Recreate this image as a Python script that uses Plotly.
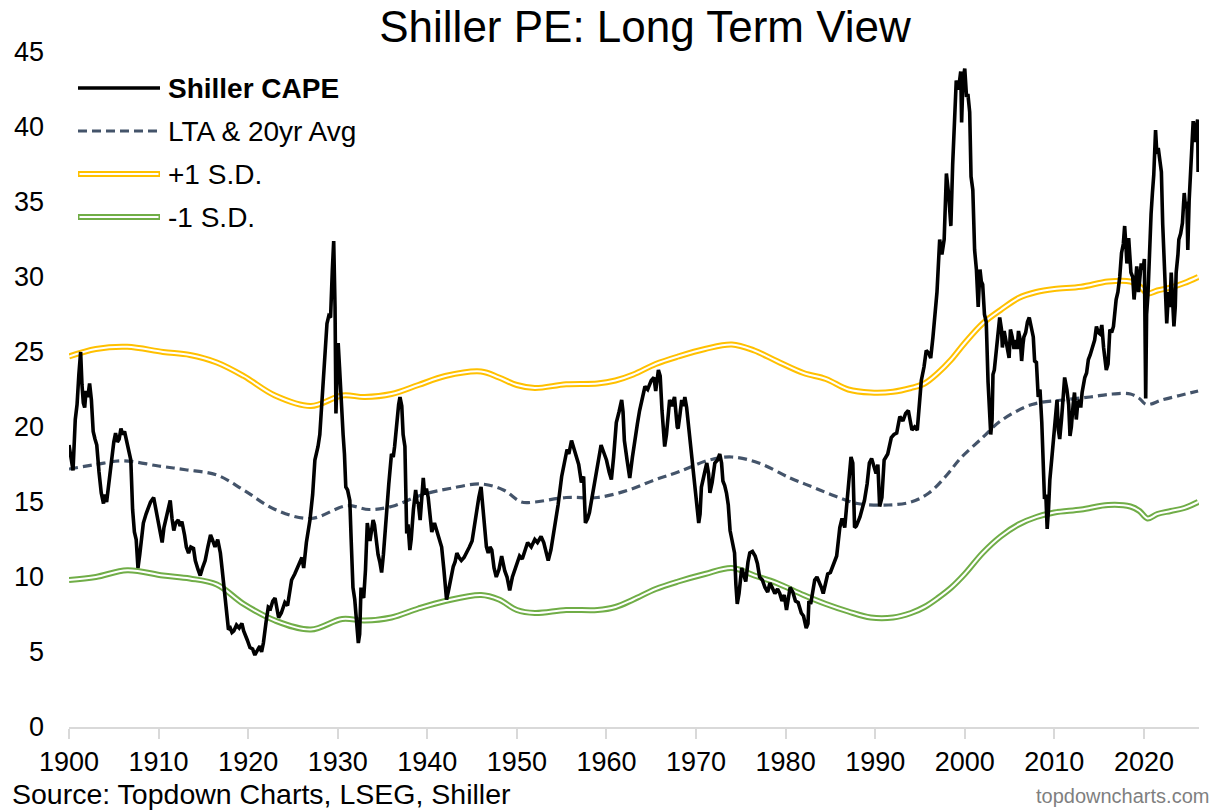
import plotly.graph_objects as go

# ---------------- data ----------------
cape_years = [
    1900.0, 1900.2, 1900.45, 1900.7, 1900.9, 1901.1, 1901.3, 1901.45, 1901.6, 1901.75, 1901.9,
    1902.1, 1902.3, 1902.5, 1902.7, 1902.9, 1903.1, 1903.35, 1903.6, 1903.85, 1904.0, 1904.2,
    1904.4, 1904.7, 1905.0, 1905.2, 1905.4, 1905.6, 1905.8, 1906.0, 1906.2, 1906.5, 1906.7,
    1906.9, 1907.1, 1907.3, 1907.5, 1907.7, 1907.9, 1908.1, 1908.3, 1908.6, 1908.8, 1909.1,
    1909.45, 1909.7, 1910.0, 1910.2, 1910.4, 1910.6, 1910.9, 1911.1, 1911.3, 1911.5, 1911.7,
    1911.9, 1912.2, 1912.4, 1912.6, 1912.9, 1913.1, 1913.35, 1913.6, 1913.9, 1914.1, 1914.4,
    1914.65, 1914.9, 1915.2, 1915.5, 1915.8, 1916.0, 1916.3, 1916.6, 1916.9, 1917.1, 1917.4,
    1917.6, 1917.8, 1918.0, 1918.2, 1918.4, 1918.7, 1919.0, 1919.3, 1919.5, 1919.7, 1919.9,
    1920.2, 1920.5, 1920.75, 1921.0, 1921.3, 1921.5, 1921.7, 1922.0, 1922.25, 1922.5, 1922.75,
    1923.0, 1923.2, 1923.4, 1923.7, 1924.1, 1924.4, 1924.6, 1924.85, 1925.2, 1925.6, 1926.0,
    1926.2, 1926.5, 1926.9, 1927.2, 1927.45, 1927.8, 1928.0, 1928.2, 1928.4, 1928.6, 1928.8,
    1929.0, 1929.2, 1929.4, 1929.55, 1929.7, 1929.8, 1929.95, 1930.05, 1930.2, 1930.4, 1930.6,
    1930.75, 1930.9, 1931.1, 1931.35, 1931.5, 1931.7, 1931.9, 1932.1, 1932.3, 1932.45, 1932.6,
    1932.75, 1932.9, 1933.1, 1933.3, 1933.45, 1933.6, 1933.8, 1933.95, 1934.1, 1934.3, 1934.5,
    1934.7, 1934.9, 1935.1, 1935.3, 1935.45, 1935.7, 1936.0, 1936.2, 1936.35, 1936.6, 1936.8,
    1936.95, 1937.15, 1937.3, 1937.5, 1937.7, 1937.85, 1938.05, 1938.2, 1938.45, 1938.7, 1938.85,
    1939.0, 1939.2, 1939.4, 1939.55, 1939.7, 1939.9, 1940.1, 1940.3, 1940.5, 1940.8, 1941.1,
    1941.3, 1941.6, 1941.85, 1942.15, 1942.4, 1942.65, 1942.9, 1943.1, 1943.3, 1943.55, 1943.8,
    1944.1, 1944.4, 1944.7, 1945.0, 1945.25, 1945.5, 1945.75, 1946.0, 1946.2, 1946.4, 1946.6,
    1946.8, 1947.0, 1947.2, 1947.45, 1947.7, 1948.0, 1948.3, 1948.5, 1948.65, 1948.9, 1949.2,
    1949.5, 1949.8, 1950.0, 1950.3, 1950.6, 1950.9, 1951.2, 1951.6, 1952.0, 1952.3, 1952.7,
    1953.0, 1953.3, 1953.5, 1953.8, 1954.25, 1954.6, 1955.0, 1955.3, 1955.6, 1955.8, 1956.1,
    1956.35, 1956.65, 1956.9, 1957.2, 1957.45, 1957.65, 1957.9, 1958.1, 1958.5, 1958.9, 1959.2,
    1959.4, 1959.7, 1960.0, 1960.3, 1960.55, 1960.8, 1961.1, 1961.4, 1961.7, 1961.85, 1962.0,
    1962.3, 1962.6, 1962.9, 1963.2, 1963.45, 1963.7, 1964.0, 1964.3, 1964.6, 1965.0, 1965.3,
    1965.5, 1965.8, 1966.0, 1966.2, 1966.35, 1966.5, 1966.7, 1966.85, 1967.05, 1967.3, 1967.6,
    1967.9, 1968.0, 1968.2, 1968.4, 1968.6, 1968.75, 1968.95, 1969.1, 1969.3, 1969.5, 1969.7,
    1969.9, 1970.1, 1970.3, 1970.45, 1970.6, 1970.9, 1971.2, 1971.4, 1971.55, 1971.8, 1972.1,
    1972.4, 1972.65, 1972.85, 1973.0, 1973.2, 1973.4, 1973.6, 1973.8, 1974.0, 1974.3, 1974.45,
    1974.6, 1974.8, 1975.1, 1975.3, 1975.55, 1975.8, 1976.0, 1976.3, 1976.6, 1976.85, 1977.1,
    1977.4, 1977.7, 1978.0, 1978.25, 1978.5, 1978.8, 1979.1, 1979.35, 1979.6, 1979.85, 1980.1,
    1980.3, 1980.5, 1980.8, 1981.1, 1981.4, 1981.75, 1982.0, 1982.3, 1982.5, 1982.6, 1982.8,
    1983.0, 1983.25, 1983.5, 1983.8, 1984.0, 1984.2, 1984.45, 1984.7, 1985.0, 1985.4, 1985.7,
    1986.05, 1986.3, 1986.6, 1986.8, 1987.0, 1987.3, 1987.5, 1987.7, 1987.9, 1988.3, 1988.8,
    1989.1, 1989.35, 1989.6, 1989.9, 1990.1, 1990.3, 1990.5, 1990.75, 1991.0, 1991.4, 1991.8,
    1992.1, 1992.4, 1992.75, 1993.1, 1993.4, 1993.7, 1994.1, 1994.4, 1994.7, 1995.15, 1995.45,
    1995.7, 1996.0, 1996.2, 1996.45, 1996.65, 1996.9, 1997.2, 1997.45, 1997.7, 1997.95, 1998.2,
    1998.45, 1998.65, 1998.8, 1999.05, 1999.3, 1999.55, 1999.65, 1999.8, 2000.0, 2000.2, 2000.35,
    2000.55, 2000.7, 2000.9, 2001.1, 2001.3, 2001.5, 2001.7, 2001.85, 2002.0, 2002.2, 2002.4,
    2002.6, 2002.75, 2002.9, 2003.05, 2003.15, 2003.3, 2003.5, 2003.7, 2003.9, 2004.1, 2004.2,
    2004.4, 2004.6, 2004.8, 2004.95, 2005.1, 2005.3, 2005.5, 2005.7, 2005.85, 2006.0, 2006.2,
    2006.35, 2006.5, 2006.6, 2006.8, 2007.0, 2007.2, 2007.35, 2007.5, 2007.65, 2007.8, 2008.0,
    2008.2, 2008.4, 2008.6, 2008.75, 2008.9, 2009.05, 2009.2, 2009.35, 2009.5, 2009.7, 2009.9,
    2010.1, 2010.3, 2010.45, 2010.6, 2010.8, 2011.0, 2011.15, 2011.4, 2011.6, 2011.75, 2011.9,
    2012.1, 2012.25, 2012.45, 2012.6, 2012.8, 2012.95, 2013.1, 2013.4, 2013.6, 2013.8, 2014.0,
    2014.3, 2014.5, 2014.7, 2014.9, 2015.1, 2015.3, 2015.5, 2015.7, 2015.8, 2016.0, 2016.2,
    2016.4, 2016.6, 2016.9, 2017.1, 2017.3, 2017.5, 2017.7, 2017.85, 2018.0, 2018.1, 2018.3,
    2018.45, 2018.55, 2018.75, 2018.9, 2019.05, 2019.2, 2019.4, 2019.55, 2019.7, 2019.9, 2020.05,
    2020.2, 2020.3, 2020.45, 2020.6, 2020.8, 2020.95, 2021.1, 2021.3, 2021.45, 2021.6, 2021.8,
    2021.95, 2022.1, 2022.3, 2022.45, 2022.55, 2022.75, 2022.9, 2023.05, 2023.2, 2023.35, 2023.5,
    2023.6, 2023.8, 2023.9, 2024.1, 2024.3, 2024.5, 2024.65, 2024.8, 2024.9, 2025.05, 2025.2,
    2025.35, 2025.5, 2025.65, 2025.8, 2026.0, 2026.05,
]
cape_values = [
    18.8, 18.0, 17.1, 20.5, 21.5, 23.5, 25.0, 22.8, 21.6, 21.3, 22.4,
    22.0, 22.9, 21.8, 19.7, 19.2, 18.8, 17.0, 15.6, 14.9, 15.5, 15.0,
    16.2, 17.5, 19.0, 19.6, 19.0, 19.2, 19.9, 19.5, 19.7, 18.9, 18.6,
    17.8, 14.5, 13.0, 12.5, 10.6, 11.5, 12.5, 13.6, 14.2, 14.5, 15.0,
    15.3, 14.5, 13.6, 13.0, 12.3, 13.3, 14.2, 14.5, 15.1, 13.9, 13.1,
    13.6, 13.8, 13.4, 13.7, 12.8, 12.0, 11.6, 12.0, 11.9, 11.1, 10.5,
    10.1, 10.6, 11.1, 12.0, 12.8, 12.5, 12.0, 12.5, 11.6, 10.5, 8.7,
    7.5, 6.5, 6.6, 6.3, 6.4, 6.8, 6.6, 6.9, 6.4, 6.0, 5.8,
    5.3, 5.2, 4.8, 5.1, 5.4, 5.0, 5.6, 7.0, 8.0, 7.9, 8.4,
    8.6, 7.8, 7.3, 7.6, 8.3, 8.1, 8.8, 9.8, 10.2, 10.7, 11.3,
    10.6, 12.3, 13.8, 15.5, 17.8, 18.7, 19.5, 21.3, 22.8, 24.9, 26.9,
    27.4, 27.3, 30.5, 32.4, 28.0, 20.9, 24.0, 25.6, 24.0, 21.3, 19.5,
    18.2, 16.0, 15.8, 15.1, 12.5, 9.3, 8.5, 7.2, 5.6, 6.2, 9.3,
    8.8, 8.6, 10.5, 13.6, 13.0, 12.4, 13.2, 13.8, 13.5, 12.2, 11.5,
    11.0, 10.3, 11.5, 13.2, 14.5, 16.2, 18.2, 18.0, 18.7, 20.5, 21.5,
    22.0, 21.4, 19.5, 18.7, 12.9, 13.5, 11.8, 12.5, 14.5, 15.8, 15.0,
    14.9, 13.8, 15.2, 16.6, 15.5, 15.9, 15.3, 13.8, 13.0, 13.6, 13.0,
    12.7, 12.0, 10.5, 8.5, 9.2, 10.0, 10.7, 11.0, 11.6, 11.3, 11.1,
    11.3, 11.6, 12.0, 12.4, 13.5, 14.5, 15.3, 16.0, 14.6, 12.7, 12.0,
    11.6, 12.0, 11.8, 10.6, 10.0, 10.5, 11.4, 10.8, 10.4, 10.0, 9.1,
    10.0, 10.6, 10.8, 11.4, 11.2, 11.8, 12.3, 12.0, 12.5, 12.3, 12.7,
    12.3, 11.6, 11.1, 11.8, 13.3, 14.8, 16.7, 17.5, 18.5, 18.2, 19.1,
    18.6, 17.9, 17.5, 16.3, 16.7, 13.6, 13.9, 14.3, 15.8, 17.3, 18.2,
    18.8, 18.3, 17.8, 17.0, 16.5, 18.0, 20.3, 21.0, 21.8, 21.0, 19.1,
    17.8, 16.6, 18.0, 19.4, 20.2, 21.1, 22.0, 22.7, 22.5, 23.1, 23.3,
    22.4, 23.8, 23.4, 21.1, 20.0, 18.7, 19.5, 20.3, 21.8, 21.4, 22.0,
    20.0, 19.9, 20.8, 21.8, 21.4, 22.0, 21.3, 20.5, 19.4, 18.2, 17.2,
    16.2, 15.0, 13.6, 14.2, 16.0, 16.8, 17.6, 16.9, 15.6, 16.3, 17.6,
    17.8, 18.2, 17.6, 16.4, 16.1, 15.6, 14.8, 13.1, 12.5, 11.6, 9.5,
    8.2, 8.9, 10.6, 10.2, 9.7, 11.0, 11.6, 11.7, 11.4, 10.9, 10.0,
    9.8, 9.3, 9.0, 9.6, 9.3, 8.9, 9.2, 8.9, 8.4, 8.8, 7.8,
    8.5, 9.3, 9.0, 8.4, 8.3, 7.6, 7.4, 6.6, 6.9, 8.4, 8.2,
    9.0, 9.8, 10.0, 9.6, 9.3, 8.9, 9.5, 10.2, 10.3, 10.9, 11.4,
    13.3, 13.9, 13.3, 14.5, 16.2, 18.0, 17.6, 13.3, 13.4, 14.0, 15.1,
    16.2, 17.6, 17.9, 17.3, 16.9, 17.5, 14.7, 15.3, 17.8, 18.2, 19.3,
    19.5, 19.6, 20.7, 20.4, 20.9, 21.1, 19.8, 20.0, 19.8, 23.1, 24.0,
    25.1, 24.9, 24.6, 26.0, 27.6, 29.0, 32.5, 31.5, 32.5, 36.9, 35.5,
    33.4, 37.5, 39.8, 43.1, 42.5, 43.7, 40.3, 43.1, 43.9, 42.0, 42.2,
    41.0, 36.7, 35.8, 31.8, 30.5, 28.0, 30.5, 29.7, 29.5, 27.5, 27.0,
    23.0, 21.5, 19.5, 20.5, 23.5, 23.8, 25.0, 26.0, 27.3, 26.5, 25.3,
    26.4, 25.8, 25.3, 24.6, 26.5, 26.0, 25.2, 25.8, 25.2, 26.4, 25.8,
    24.4, 25.5, 26.0, 26.3, 27.0, 27.3, 26.8, 26.5, 26.0, 24.4, 24.3,
    22.0, 22.5, 20.3, 17.5, 15.2, 15.5, 13.2, 14.5, 16.5, 17.8, 19.2,
    20.0, 21.8, 19.8, 19.2, 20.5, 22.0, 23.3, 22.5, 21.5, 19.4, 20.0,
    21.5, 22.3, 20.5, 21.5, 21.8, 21.3, 22.3, 23.3, 23.6, 24.5, 24.8,
    25.3, 25.8, 26.7, 26.3, 26.2, 26.8, 25.3, 24.5, 23.8, 24.2, 26.5,
    26.3, 26.7, 28.5, 29.0, 30.0, 31.6, 32.2, 33.4, 32.0, 30.9, 32.6,
    31.5, 30.3, 30.0, 28.5, 29.5, 30.7, 29.0, 30.0, 30.9, 30.5, 31.2,
    21.9, 27.5, 28.8, 31.5, 34.2, 35.6, 36.8, 39.8, 38.2, 38.6, 37.6,
    37.0, 33.5, 30.7, 28.5, 26.9, 29.0, 28.0, 30.3, 28.5, 26.7, 28.0,
    30.3, 31.5, 32.5, 32.9, 33.6, 35.6, 34.6, 35.0, 31.8, 35.1, 37.1,
    38.5, 40.4, 39.0, 39.9, 40.5, 37.0,
]

avg_years = [1900, 1903, 1906, 1910, 1913, 1916.5, 1919.5, 1923, 1927, 1931, 1933.5, 1936,
             1939.5, 1942.5, 1946, 1948.5, 1950.5, 1952, 1955.5, 1959, 1962.5, 1965.5, 1968,
             1971.5, 1974, 1977, 1980.5, 1983, 1985.5, 1988, 1991.5, 1994, 1996, 1998, 1999.5,
             2002, 2004, 2007.5, 2011, 2014, 2016.5, 2018.5, 2019.5, 2020.3, 2022, 2024, 2026.05]
avg_values = [17.2, 17.5, 17.75, 17.4, 17.15, 16.8, 15.8, 14.5, 13.9, 14.75, 14.5, 14.7,
              15.5, 15.9, 16.2, 15.8, 15.0, 15.0, 15.3, 15.3, 15.8, 16.5, 17.0,
              17.8, 18.0, 17.6, 16.6, 16.0, 15.4, 14.9, 14.8, 15.0, 15.6, 16.8, 17.9,
              19.3, 20.4, 21.5, 21.8, 22.0, 22.2, 22.2, 21.9, 21.5, 21.8, 22.1, 22.4]

up_years = [1900, 1903, 1906.5, 1910.5, 1913.5, 1916.5, 1919.5, 1923, 1927, 1930.5, 1933, 1936,
            1939, 1942, 1946, 1948, 1950, 1952, 1955.5, 1959, 1961, 1963, 1965.5, 1968, 1971,
            1974, 1976.5, 1979, 1982, 1984.5, 1987, 1989.5, 1992, 1994, 1995.5, 1997, 1998.5,
            2000, 2002, 2004, 2006, 2008, 2010, 2013, 2016, 2018.5, 2019.5, 2020.4, 2021.5,
            2023, 2024.5, 2026.05]
up_values = [24.7, 25.2, 25.35, 25.0, 24.8, 24.3, 23.4, 22.1, 21.4, 22.1, 22.0, 22.2,
             22.8, 23.4, 23.7, 23.3, 22.8, 22.6, 22.85, 22.9, 23.1, 23.5, 24.2, 24.7, 25.2,
             25.5, 25.1, 24.4, 23.6, 23.2, 22.5, 22.3, 22.35, 22.6, 22.9, 23.6, 24.5,
             25.6, 26.9, 27.8, 28.6, 29.0, 29.2, 29.35, 29.7, 29.7, 29.4, 28.9, 29.1,
             29.3, 29.6, 30.0]

lo_years = up_years
lo_values = [9.8, 10.0, 10.45, 10.1, 9.9, 9.5, 8.2, 7.1, 6.5, 7.2, 7.1, 7.3,
             7.9, 8.4, 8.8, 8.5, 7.8, 7.6, 7.8, 7.8, 8.0, 8.5, 9.2, 9.7, 10.2,
             10.6, 10.1, 9.6, 8.8, 8.2, 7.7, 7.3, 7.3, 7.6, 8.0, 8.6, 9.3,
             10.2, 11.6, 12.7, 13.5, 14.0, 14.3, 14.5, 14.8, 14.7, 14.4, 13.9, 14.2,
             14.4, 14.6, 15.0]

x_ticks = [1900, 1910, 1920, 1930, 1940, 1950, 1960, 1970, 1980, 1990, 2000, 2010, 2020]
y_ticks = [0, 5, 10, 15, 20, 25, 30, 35, 40, 45]

legend_labels = ["<b>Shiller CAPE</b>", "LTA & 20yr Avg", "+1 S.D.", "-1 S.D."]

# ---------------- styling ----------------
FONT = "Liberation Sans, Arial, sans-serif"
BLACK = "#000000"
SLATE = "#44546A"
GOLD = "#FFC000"
GREEN = "#70AD47"

W, H = 1221, 810
# plot-area edges in page pixels
P_LEFT, P_RIGHT, P_TOP, P_BOTTOM = 69, 1199, 52, 727
ML, MT = P_LEFT, P_TOP
MR, MB = W - P_RIGHT, H - P_BOTTOM
PW = P_RIGHT - P_LEFT
PH = P_BOTTOM - P_TOP


def px(xp):
    return (xp - P_LEFT) / PW


def py(yp):
    return (P_BOTTOM - yp) / PH


fig = go.Figure()

fig.add_trace(go.Scatter(x=avg_years, y=avg_values, mode="lines", hoverinfo="skip",
                         line=dict(color=SLATE, width=3.2, dash="9px,5px", shape="spline")))
for yrs, vals, col in [(up_years, up_values, GOLD), (lo_years, lo_values, GREEN)]:
    fig.add_trace(go.Scatter(x=yrs, y=vals, mode="lines", hoverinfo="skip",
                             line=dict(color=col, width=6, shape="spline")))
    fig.add_trace(go.Scatter(x=yrs, y=vals, mode="lines", hoverinfo="skip",
                             line=dict(color="white", width=2, shape="spline")))
fig.add_trace(go.Scatter(x=cape_years, y=cape_values, mode="lines", hoverinfo="skip",
                         line=dict(color=BLACK, width=3.6)))

# ---------------- manual legend ----------------
shapes = []
annotations = []
rows = [88, 131, 174, 217]
lx0, lx1, ltx = 78, 160, 166
shapes.append(dict(type="line", xref="paper", yref="paper", x0=px(lx0), x1=px(lx1),
                   y0=py(rows[0]), y1=py(rows[0]), line=dict(color=BLACK, width=3.6)))
shapes.append(dict(type="line", xref="paper", yref="paper", x0=px(lx0), x1=px(lx1),
                   y0=py(rows[1]), y1=py(rows[1]), line=dict(color=SLATE, width=3.2, dash="9px,5px")))
for r, col in [(rows[2], GOLD), (rows[3], GREEN)]:
    shapes.append(dict(type="line", xref="paper", yref="paper", x0=px(lx0), x1=px(lx1),
                       y0=py(r), y1=py(r), line=dict(color=col, width=6)))
    shapes.append(dict(type="line", xref="paper", yref="paper", x0=px(lx0 + 1.5), x1=px(lx1 - 1.5),
                       y0=py(r), y1=py(r), line=dict(color="white", width=2)))
for r, lab in zip(rows, legend_labels):
    annotations.append(dict(text=lab, xref="paper", yref="paper", x=px(ltx), y=py(r),
                            xanchor="left", yanchor="middle", showarrow=False,
                            font=dict(family=FONT, size=28, color=BLACK)))

annotations.append(dict(text="Source: Topdown Charts, LSEG, Shiller", xref="paper", yref="paper",
                        x=px(10), y=py(794), xanchor="left", yanchor="middle", showarrow=False,
                        font=dict(family=FONT, size=28.5, color=BLACK)))
annotations.append(dict(text="topdowncharts.com", xref="paper", yref="paper",
                        x=px(1211), y=py(796), xanchor="right", yanchor="middle", showarrow=False,
                        font=dict(family=FONT, size=20, color="#7F7F7F")))

fig.update_layout(
    width=W, height=H,
    margin=dict(l=ML, r=MR, t=MT, b=MB, pad=0),
    paper_bgcolor="white", plot_bgcolor="white",
    showlegend=False,
    hovermode=False,
    title=dict(text="Shiller PE: Long Term View", x=645 / W, xanchor="center",
               y=1 - 27 / H, yanchor="middle",
               font=dict(family=FONT, size=44, color=BLACK)),
    shapes=shapes, annotations=annotations,
    xaxis=dict(range=[1900, 2026.15], tickvals=x_ticks, ticktext=[str(v) for v in x_ticks],
               showgrid=False, zeroline=False, showline=True, linecolor="#D9D9D9", linewidth=1.5,
               ticks="outside", ticklen=10, tickwidth=1.5, tickcolor="#D9D9D9",
               tickfont=dict(family=FONT, size=27, color=BLACK)),
    yaxis=dict(range=[0, 45], tickvals=y_ticks, ticktext=[str(v) for v in y_ticks],
               showgrid=False, zeroline=False, showline=False, ticks="",
               ticklabelstandoff=24,
               tickfont=dict(family=FONT, size=27, color=BLACK)),
)

# remove the browser's default 8px body margin so the figure sits at the page origin
fig.write_html("out.html", config={"displayModeBar": False},
               post_script="document.body.style.margin='0px';")
